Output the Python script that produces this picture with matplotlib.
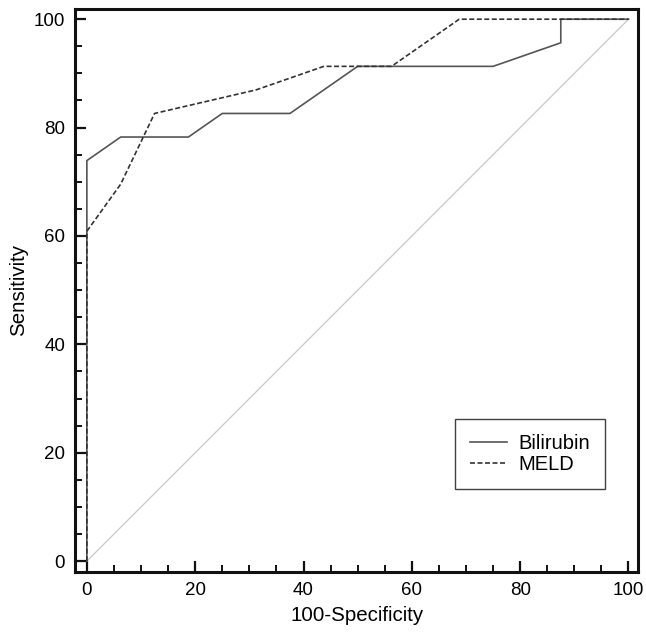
import matplotlib
matplotlib.use("Agg")
import matplotlib.pyplot as plt
from matplotlib.ticker import MultipleLocator

plt.rcParams['font.family'] = ['Liberation Sans', 'DejaVu Sans']

# ROC data (100-Specificity, Sensitivity)
bili_x = [0, 0, 6.25, 18.75, 25, 37.5, 50, 75, 87.5, 87.5, 100]
bili_y = [0, 73.91, 78.26, 78.26, 82.61, 82.61, 91.30, 91.30, 95.65, 100, 100]
meld_x = [0, 0, 6.25, 12.5, 31.25, 43.75, 56.25, 68.75, 100]
meld_y = [0, 60.87, 69.57, 82.61, 86.96, 91.30, 91.30, 100, 100]
diag_x = [0, 100]
diag_y = [0, 100]
ticks = [0, 20, 40, 60, 80, 100]

fig = plt.figure(figsize=(6.46, 6.36), dpi=100)
ax = fig.add_axes([0.116, 0.1006, 0.872, 0.8854])

ax.plot(diag_x, diag_y, color='#c8c8c8', lw=0.9)
ax.plot(bili_x, bili_y, color='#555555', lw=1.2, label='Bilirubin')
ax.plot(meld_x, meld_y, color='#333333', lw=1.2, ls=(0, (3, 1.5)), label='MELD')

ax.set_xlim(-2.2, 101.8)
ax.set_ylim(-2.0, 101.9)
ax.set_xticks(ticks)
ax.set_yticks(ticks)
ax.xaxis.set_minor_locator(MultipleLocator(5))
ax.yaxis.set_minor_locator(MultipleLocator(5))
ax.tick_params(which='major', direction='in', length=8, width=1.6, labelsize=13.5, pad=7, color='#111111')
ax.tick_params(which='minor', direction='in', length=5, width=1.4, color='#111111')
for s in ax.spines.values():
    s.set_linewidth(2.2)
    s.set_color('#111111')

ax.set_xlabel('100-Specificity', fontsize=14.8, labelpad=5)
ax.set_ylabel('Sensitivity', fontsize=14.8, labelpad=4)

leg = ax.legend(loc='upper left', bbox_to_anchor=(0.675, 0.272), fontsize=14.5,
                frameon=True, fancybox=False, edgecolor='#111111',
                handlelength=1.8, handletextpad=0.6, borderpad=0.75,
                labelspacing=0.1, borderaxespad=0)
leg.get_frame().set_linewidth(1.0)

fig.savefig('out.png', dpi=100)
